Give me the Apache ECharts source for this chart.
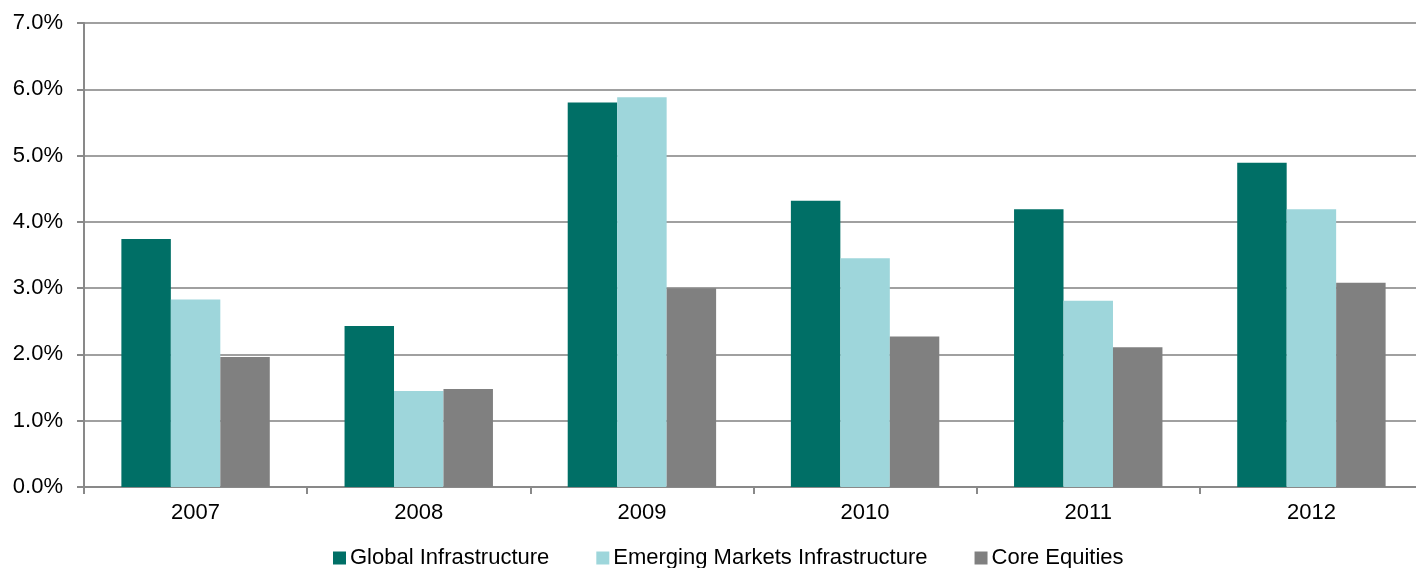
<!DOCTYPE html>
<html>
<head>
<meta charset="utf-8">
<script src="https://cdn.jsdelivr.net/npm/echarts@6/dist/echarts.min.js"></script>
<style>
html,body{margin:0;padding:0;background:#fff;}
#c{width:1416px;height:568px;}
</style>
</head>
<body>
<div id="c"></div>
<script>
const categories = ['2007', '2008', '2009', '2010', '2011', '2012'];
const globalInfra = [3.74, 2.43, 5.80, 4.32, 4.19, 4.89];
const emergingInfra = [2.83, 1.45, 5.88, 3.45, 2.81, 4.19];
const coreEquities = [1.96, 1.48, 3.00, 2.27, 2.11, 3.08];
const seriesNames = ['Global Infrastructure', 'Emerging Markets Infrastructure', 'Core Equities'];

const font = 'Liberation Sans, Arial, sans-serif';
const chart = echarts.init(document.getElementById('c'), null, {renderer: 'canvas'});
chart.setOption({
  animation: false,
  color: ['#006F66', '#9ED6DB', '#808080'],
  grid: {left: 84, width: 1339, top: 23, bottom: 81, containLabel: false, outerBoundsMode: 'none'},
  legend: {
    left: 333, top: 547, padding: 0,
    itemWidth: 13, itemHeight: 13, itemGap: 47,
    icon: 'rect',
    textStyle: {fontFamily: font, fontSize: 22, color: '#000', padding: [0, 0, 0, -1]},
    data: seriesNames
  },
  xAxis: {
    type: 'category',
    data: categories,
    axisLine: {lineStyle: {color: '#898989', width: 2}},
    axisTick: {show: true, length: 7, lineStyle: {color: '#898989', width: 2}},
    axisLabel: {fontFamily: font, fontSize: 22, color: '#000', margin: 15}
  },
  yAxis: {
    type: 'value',
    min: 0, max: 7, interval: 1,
    axisLine: {show: true, lineStyle: {color: '#898989', width: 2}},
    axisTick: {show: true, length: 7, lineStyle: {color: '#898989', width: 2}},
    axisLabel: {fontFamily: font, fontSize: 22, color: '#000', margin: 21,
      formatter: v => v.toFixed(1) + '%'},
    splitLine: {show: true, lineStyle: {color: '#a0a0a0', width: 2}}
  },
  series: [
    {name: seriesNames[0], type: 'bar', data: globalInfra, barGap: '0%', barCategoryGap: '33.5%'},
    {name: seriesNames[1], type: 'bar', data: emergingInfra, barGap: '0%', barCategoryGap: '33.5%'},
    {name: seriesNames[2], type: 'bar', data: coreEquities, barGap: '0%', barCategoryGap: '33.5%'}
  ]
});
</script>
</body>
</html>
